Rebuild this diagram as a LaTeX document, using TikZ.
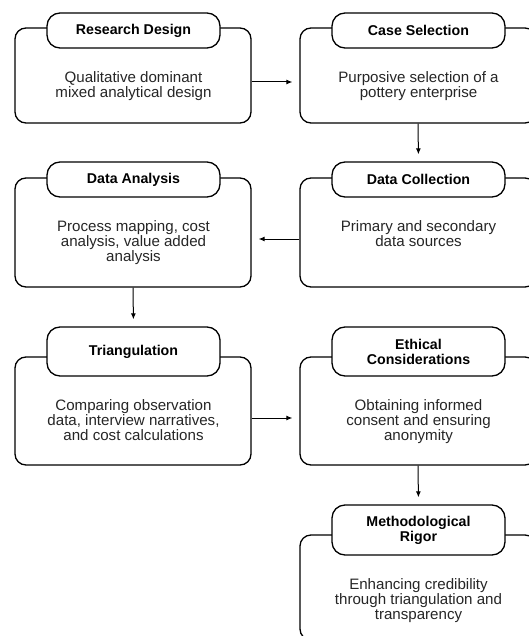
\documentclass[tikz,border=0pt]{standalone}
\usepackage{fontspec}
\setmainfont{Liberation Sans}
\usetikzlibrary{arrows.meta,calc}
\begin{document}
\begin{tikzpicture}[x=1pt,y=-1pt,
  outerbox/.style={draw=black, line width=1.3pt, rounded corners=11pt, fill=white, minimum width=236pt, inner sep=0pt},
  pill/.style={draw=black, line width=1.3pt, rounded corners=13pt, fill=white, minimum width=173pt, inner sep=0pt, align=center, font=\bfseries\fontsize{14.2}{15}\selectfont, text=black},
  bodytext/.style={font=\fontsize{15.1}{15}\selectfont, align=center, anchor=north, inner sep=0pt, text=black!85},
  conn/.style={-{Latex[length=6pt,width=5pt]}, line width=1pt, shorten >=7pt}
]
\useasboundingbox (0,0) rectangle (529,636);
\clip (0,0) rectangle (529,636);

% Row 1
\node[outerbox, minimum height=95pt] (rdbox) at (133,75.5) {};
\node[pill, minimum height=35pt] (rdtitle) at (133.5,30.5) {Research Design};
\node[bodytext] (rdtext) at ($(rdtitle.south)+(0,22.5)$) {Qualitative dominant\\mixed analytical design};

\node[outerbox, minimum height=95pt] (csbox) at (418,75.5) {};
\node[pill, minimum height=35pt] (cstitle) at (418.5,30.5) {Case Selection};
\node[bodytext] (cstext) at ($(cstitle.south)+(0,22.5)$) {Purposive selection of a\\pottery enterprise};

% Row 2
\node[outerbox, minimum height=109pt] (dabox) at (133,232.5) {};
\node[pill, minimum height=35pt] (datitle) at (133.5,179.5) {Data Analysis};
\node[bodytext] (datext) at ($(datitle.south)+(0,22.5)$) {Process mapping, cost\\analysis, value added\\analysis};

\node[outerbox, minimum height=109pt] (dcbox) at (418,232.5) {};
\node[pill, minimum height=35pt] (dctitle) at (418.5,179.5) {Data Collection};
\node[bodytext] (dctext) at ($(dctitle.south)+(0,22.5)$) {Primary and secondary\\data sources};

% Row 3
\node[outerbox, minimum height=108pt] (tribox) at (133,411) {};
\node[pill, minimum height=49pt] (trititle) at (133.5,351.5) {Triangulation};
\node[bodytext] (tritext) at ($(trititle.south)+(0,22.5)$) {Comparing observation\\data, interview narratives,\\and cost calculations};

\node[outerbox, minimum height=108pt] (ecbox) at (418,411) {};
\node[pill, minimum height=49pt] (ectitle) at (418.5,351.5) {Ethical\\Considerations};
\node[bodytext] (ectext) at ($(ectitle.south)+(0,22.5)$) {Obtaining informed\\consent and ensuring\\anonymity};

% Row 4
\node[outerbox, minimum height=105pt] (mrbox) at (418,587.5) {};
\node[pill, minimum height=50pt] (mrtitle) at (418.5,530) {Methodological\\Rigor};
\node[bodytext] (mrtext) at ($(mrtitle.south)+(0,22.5)$) {Enhancing credibility\\through triangulation and\\transparency};

% Connectors
\draw[conn] ($(rdbox.east)+(0,6.5)$) -- ($(csbox.west)+(0,6.5)$);
\draw[conn] (csbox.south) -- (dctitle.north);
\draw[conn] ($(dcbox.west)+(0,6.5)$) -- ($(dabox.east)+(0,6.5)$);
\draw[conn] (dabox.south) -- (trititle.north);
\draw[conn] ($(tribox.east)+(0,7)$) -- ($(ecbox.west)+(0,7)$);
\draw[conn] (ecbox.south) -- (mrtitle.north);
\end{tikzpicture}
\end{document}
